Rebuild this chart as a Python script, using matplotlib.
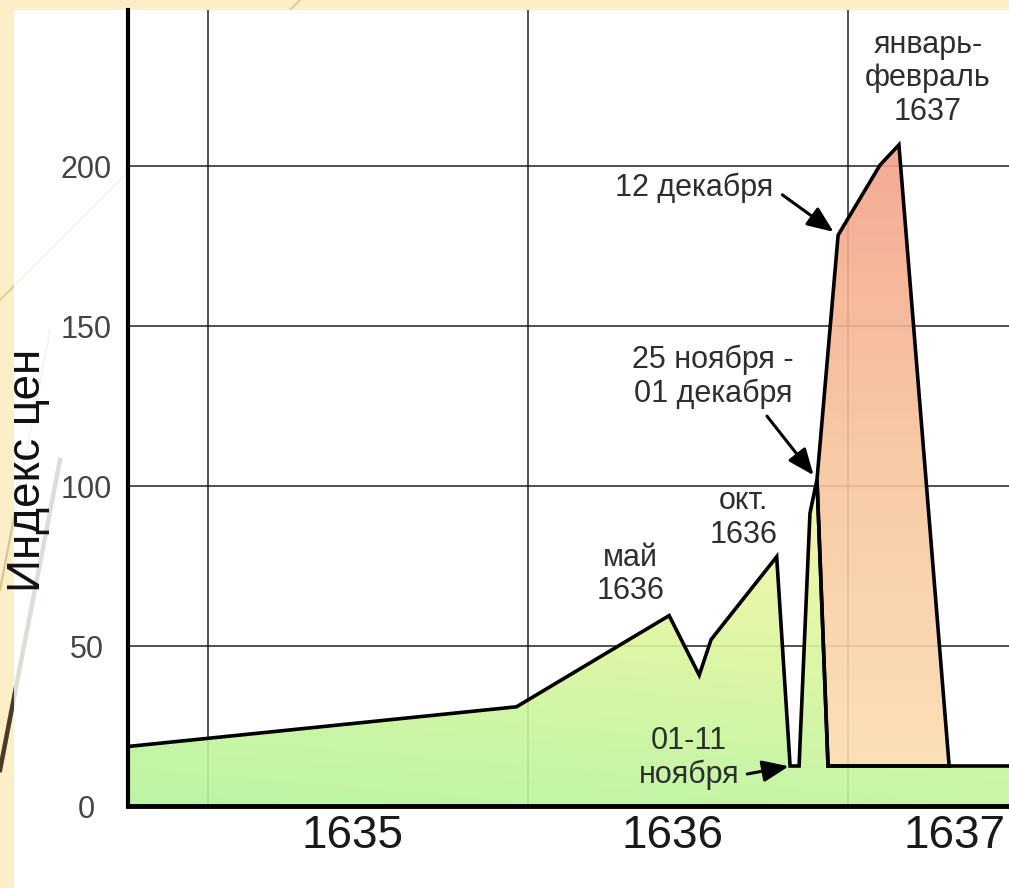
import numpy as np
import matplotlib
matplotlib.use('Agg')
import matplotlib.pyplot as plt
from matplotlib.patches import Rectangle
from matplotlib.lines import Line2D
from matplotlib.colors import LinearSegmentedColormap

plt.rcParams['font.family'] = ['Liberation Sans', 'DejaVu Sans']

# price index of tulip bulbs, x in fractional years
early_x = [1634.75, 1635.964, 1636.441, 1636.535, 1636.572, 1636.777,
           1636.819, 1636.847, 1636.881, 1636.903, 1636.9375, 1637.503]
early_y = [18.6, 31.0, 59.5, 40.9, 52.0, 77.9,
           12.5, 12.5, 91.5, 102.0, 12.5, 12.5]

# the mania peak (closed outline)
peak_x = [1636.9375, 1636.903, 1636.969, 1637.10, 1637.159, 1637.316]
peak_y = [12.5, 102.0, 178.4, 200.3, 206.6, 12.5]

years = [1635, 1636, 1637]
year_labels = ['1635', '1636', '1637']
y_ticks = [0, 50, 100, 150, 200]

W, H = 1009, 888
xmin, xmax = 1634.75, 1637.503
ymin, ymax = 0, 248.75


def fig_line(p0, p1, **kw):
    # pixel coords (from top-left) -> figure fraction
    return Line2D([p0[0] / W, p1[0] / W], [1 - p0[1] / H, 1 - p1[1] / H],
                  transform=fig.transFigure, **kw)


fig = plt.figure(figsize=(W / 100, H / 100), dpi=100, facecolor='#FCEFC8')
# slide decoration: strong in the cream margin, faint through the picture
deco = [((300, 0), (0, 300), '#DCC796', 1.2),
        ((50, 330), (0, 590), '#D9C493', 1.5),
        ((60, 460), (0, 770), '#4A3A2A', 3.2)]
for p0, p1, c, lw in deco:
    fig.add_artist(fig_line(p0, p1, color=c, lw=lw, zorder=-3))
    fig.add_artist(fig_line(p0, p1, color=c, lw=lw, alpha=0.18, zorder=-1))
fig.add_artist(Rectangle((14 / W, 0), 1, 1 - 10 / H, transform=fig.transFigure,
                         facecolor='white', edgecolor='none', zorder=-2))

ax = fig.add_axes([128 / W, 1 - 806 / H, 1 - 128 / W, (806 - 10) / H])
ax.set_facecolor('white')

# gradient fills
green_yellow = LinearSegmentedColormap.from_list('gy', ['#B4F49C', '#D8F59C', '#F6F7A2'])
peach_salmon = LinearSegmentedColormap.from_list('ps', ['#FCDDB0', '#F8C49C', '#F3A188'])

fill1 = ax.fill_between(early_x, early_y, 0, facecolor='none', edgecolor='none')
gx = np.linspace(xmin, xmax, 300)
gy = np.linspace(ymin, ymax, 300)
GX, GY = np.meshgrid(gx, gy)
t1 = np.clip(0.2 * (GX - xmin) / (xmax - xmin) + 0.85 * GY / 100, 0, 1)
im1 = ax.imshow(t1, cmap=green_yellow, extent=[xmin, xmax, ymin, ymax], origin='lower',
                aspect='auto', zorder=2, alpha=0.9, vmin=0, vmax=1)
im1.set_clip_path(fill1.get_paths()[0], transform=ax.transData)

peak_patch = ax.fill(peak_x, peak_y, facecolor='none', edgecolor='black', lw=2.6, zorder=4)[0]
t2 = np.clip((GY - 12.5) / (206.6 - 12.5), 0, 1)
im2 = ax.imshow(t2, cmap=peach_salmon, extent=[xmin, xmax, ymin, ymax], origin='lower',
                aspect='auto', zorder=3, alpha=0.9, vmin=0, vmax=1)
im2.set_clip_path(peak_patch)

ax.plot(early_x, early_y, color='black', lw=2.6, zorder=4, solid_joinstyle='miter')

ax.set_xlim(xmin, xmax)
ax.set_ylim(ymin, ymax)

# grid at year boundaries, labels in the middle of each year
ax.set_xticks(years)
ax.set_xticklabels([])
label_pos = [min(y + 0.45, xmax - 0.17) for y in years]
ax.set_xticks(label_pos, minor=True)
ax.set_xticklabels(year_labels, minor=True, fontsize=33, color='#1A1A1A')
ax.tick_params(axis='x', which='both', length=0, pad=6)

ax.set_yticks(y_ticks)
ax.set_yticklabels([str(v) for v in y_ticks], fontsize=22, color='#444444')
for lbl in ax.get_yticklabels():
    lbl.set_ha('center')
ax.tick_params(axis='y', length=0, pad=30)

ax.grid(True, which='major', color='#222222', lw=1.1, zorder=1)
ax.set_axisbelow(True)

for side in ['top', 'right']:
    ax.spines[side].set_visible(False)
ax.spines['left'].set_linewidth(3)
ax.spines['bottom'].set_linewidth(3.5)
ax.spines['left'].set_zorder(6)
ax.spines['bottom'].set_zorder(6)

fig.text(28 / W, 1 - 470 / H, 'Индекс цен', rotation=90, ha='center', va='center',
         fontsize=33, color='#111111')

txt = dict(fontsize=22, color='#2E2E2E', ha='center', va='center', linespacing=1.15)
arrow = dict(arrowstyle='-|>,head_length=0.8,head_width=0.33', color='black', lw=2.2,
             mutation_scale=20, shrinkA=4, shrinkB=4)

ax.annotate('май\n1636', xy=(early_x[2], early_y[2]), xytext=(-28, 29.5),
            textcoords='offset points', zorder=7, **txt)
ax.annotate('окт.\n1636', xy=(early_x[5], early_y[5]), xytext=(-24, 28),
            textcoords='offset points', zorder=7, **txt)
ax.annotate('01-11\nноября', xy=(early_x[6], early_y[6]), xytext=(-73, 6),
            textcoords='offset points', zorder=7,
            arrowprops=dict(arrow, relpos=(1.0, 0.22), shrinkB=1), **txt)
ax.annotate('25 ноября -\n01 декабря', xy=(early_x[9], early_y[9]), xytext=(-75, 74),
            textcoords='offset points', zorder=7,
            arrowprops=dict(arrow, relpos=(0.8, 0.0)), **txt)
ax.annotate('12 декабря', xy=(peak_x[2], peak_y[2]), xytext=(-104, 34),
            textcoords='offset points', zorder=7,
            arrowprops=dict(arrow, relpos=(1.0, 0.5), shrinkA=6), **txt)
ax.annotate('январь-\nфевраль\n1637', xy=(peak_x[4], peak_y[4]), xytext=(21, 48),
            textcoords='offset points', zorder=7, **txt)

fig.savefig('out.png', dpi=100, facecolor=fig.get_facecolor())
